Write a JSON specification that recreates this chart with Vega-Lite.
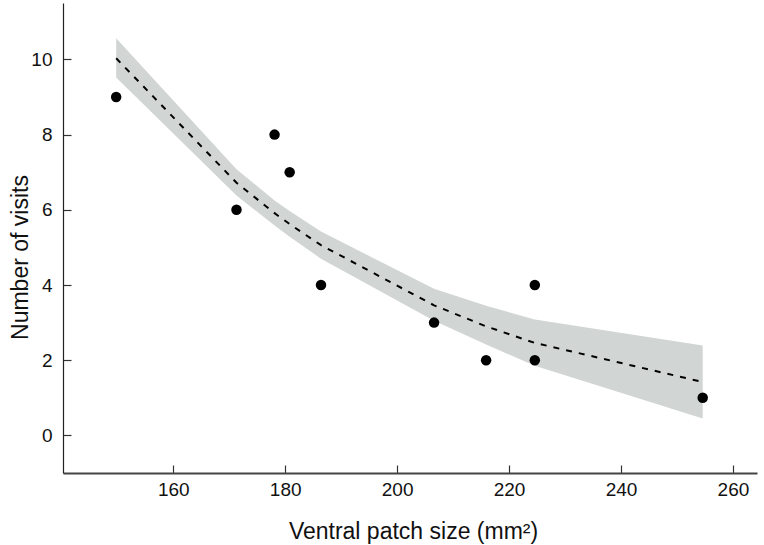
{
  "$schema": "https://vega.github.io/schema/vega-lite/v6.json",
  "width": 694,
  "height": 470,
  "autosize": {"type": "none"},
  "padding": {"left": 63, "top": 3, "right": 7, "bottom": 72},
  "background": "white",
  "config": {"view": {"stroke": null}, "font": "Liberation Sans"},
  "datasets": {
    "fit": [
      {"x": 149.8, "fit": 10.03, "lo": 9.52, "hi": 10.56},
      {"x": 171.3, "fit": 6.72, "lo": 6.38, "hi": 7.08},
      {"x": 178.1, "fit": 5.91, "lo": 5.58, "hi": 6.25},
      {"x": 180.8, "fit": 5.62, "lo": 5.28, "hi": 5.97},
      {"x": 186.4, "fit": 5.06, "lo": 4.7, "hi": 5.42},
      {"x": 206.6, "fit": 3.46, "lo": 3.05, "hi": 3.9},
      {"x": 215.9, "fit": 2.9, "lo": 2.42, "hi": 3.45},
      {"x": 224.6, "fit": 2.46, "lo": 1.85, "hi": 3.08},
      {"x": 254.6, "fit": 1.42, "lo": 0.45, "hi": 2.39}
    ],
    "points": [
      {"x": 149.8, "visits": 9},
      {"x": 171.3, "visits": 6},
      {"x": 178.1, "visits": 8},
      {"x": 180.8, "visits": 7},
      {"x": 186.4, "visits": 4},
      {"x": 206.6, "visits": 3},
      {"x": 215.9, "visits": 2},
      {"x": 224.6, "visits": 2},
      {"x": 224.6, "visits": 4},
      {"x": 254.6, "visits": 1}
    ]
  },
  "layer": [
    {
      "data": {"name": "fit"},
      "mark": {"type": "area", "color": "#d1d5d4", "opacity": 1},
      "encoding": {
        "x": {
          "field": "x", "type": "quantitative",
          "scale": {"domain": [140.3, 264.3], "nice": false, "zero": false},
          "axis": {
            "title": "Ventral patch size (mm²)",
            "values": [160, 180, 200, 220, 240, 260],
            "grid": false,
            "tickSize": -8, "tickColor": "#333", "tickWidth": 1.2,
            "domainColor": "#444", "domainWidth": 2,
            "labelPadding": 15, "labelFontSize": 19, "labelColor": "#111",
            "titleFontSize": 23, "titleFontWeight": "normal", "titleColor": "#111",
            "titleBaseline": "alphabetic", "titleY": 65, "titleX": 350
          }
        },
        "y": {
          "field": "lo", "type": "quantitative",
          "scale": {"domain": [-1, 11.5], "nice": false, "zero": false},
          "axis": {
            "title": "Number of visits",
            "values": [0, 2, 4, 6, 8, 10],
            "grid": false,
            "tickSize": -8, "tickColor": "#333", "tickWidth": 1.2,
            "domainColor": "#222", "domainWidth": 1.2,
            "labelPadding": 19, "labelFontSize": 19, "labelColor": "#111",
            "titleFontSize": 23, "titleFontWeight": "normal", "titleColor": "#111",
            "titleAngle": -90, "titleBaseline": "alphabetic", "titleX": -36, "titleY": 254
          }
        },
        "y2": {"field": "hi"}
      }
    },
    {
      "data": {"name": "fit"},
      "mark": {"type": "line", "color": "black", "strokeDash": [6, 7], "strokeWidth": 2},
      "encoding": {
        "x": {"field": "x", "type": "quantitative"},
        "y": {"field": "fit", "type": "quantitative"}
      }
    },
    {
      "data": {"name": "points"},
      "mark": {"type": "point", "shape": "circle", "filled": true, "color": "black", "size": 110, "opacity": 1},
      "encoding": {
        "x": {"field": "x", "type": "quantitative"},
        "y": {"field": "visits", "type": "quantitative"}
      }
    }
  ]
}
